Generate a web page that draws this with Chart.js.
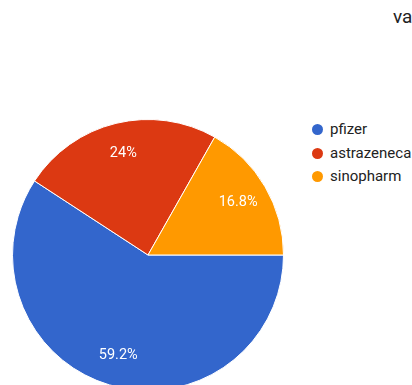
<!DOCTYPE html>
<html>
<head>
<meta charset="utf-8">
<script src="https://cdn.jsdelivr.net/npm/chart.js@4"></script>
<style>
  html, body { margin: 0; padding: 0; background: #fff; }
  body { width: 412px; height: 385px; overflow: hidden; position: relative; font-family: Roboto, Arial, sans-serif; }
  #title { position: absolute; left: 393px; top: 5px; font-size: 19px; color: #222; white-space: nowrap; }
  #pie { position: absolute; left: 12px; top: 119px; }
  #legend { position: absolute; left: 312px; top: 119px; }
  .item { height: 23.5px; line-height: 20px; font-size: 15px; color: #222; white-space: nowrap; }
  .dot { display: inline-block; width: 11px; height: 11px; border-radius: 50%; vertical-align: -1px; margin-right: 7px; }
</style>
</head>
<body>
<div id="title">vaccine</div>
<canvas id="pie" width="272" height="272"></canvas>
<div id="legend"></div>
<script>
var labels = ['pfizer', 'astrazeneca', 'sinopharm'];
var values = [59.2, 24, 16.8];
var colors = ['#3366cc', '#dc3912', '#ff9900'];

$legend = document.getElementById('legend');
labels.forEach(function(l, i){
    var d = document.createElement('div');
    d.className = 'item';
    d.innerHTML = '<span class="dot" style="background:' + colors[i] + '"></span>' + l;
    $legend.appendChild(d);
});

// percent labels inside the slices
var sliceLabels = {
    id: 'sliceLabels',
    afterDatasetsDraw: function(chart){
        var ctx = chart.ctx;
        var meta = chart.getDatasetMeta(0);
        var total = values.reduce(function(a, b){ return a + b; }, 0);
        ctx.save();
        ctx.fillStyle = '#ffffff';
        ctx.font = '14.5px Roboto, Arial, sans-serif';
        ctx.textAlign = 'center';
        ctx.textBaseline = 'middle';
        meta.data.forEach(function(arc, i){
            var p = arc.getProps(['x', 'y', 'startAngle', 'endAngle', 'outerRadius'], true);
            var mid = (p.startAngle + p.endAngle) / 2;
            var r = p.outerRadius * 0.77;
            var pct = Math.round(values[i] / total * 1000) / 10;
            ctx.fillText(pct + '%', p.x + Math.cos(mid) * r, p.y + Math.sin(mid) * r);
        });
        ctx.restore();
    }
};

var pie_chart = new Chart(document.getElementById('pie').getContext('2d'), {
    type: 'pie',
    data: {
        labels: labels,
        datasets: [{
            data: values,
            backgroundColor: colors,
            borderColor: '#ffffff',
            borderWidth: 1
        }]
    },
    options: {
        responsive: false,
        animation: false,
        rotation: 90,
        layout: { padding: 0 },
        plugins: {
            legend: { display: false },
            tooltip: { enabled: false }
        }
    },
    plugins: [sliceLabels]
});
</script>
</body>
</html>
